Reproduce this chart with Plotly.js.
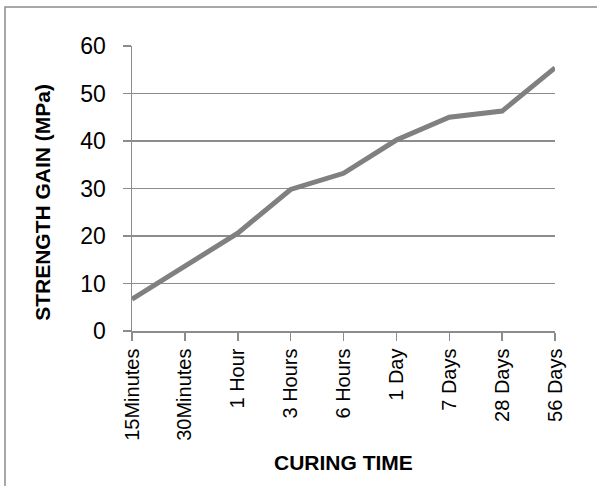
<!DOCTYPE html>
<html>
<head>
<meta charset="utf-8">
<script src="https://cdn.plot.ly/plotly-3.0.1.min.js"></script>
<style>html,body{margin:0;padding:0;background:#fff;}#chart{width:597px;height:486px;}</style>
</head>
<body>
<div id="chart"></div>
<script>
var curingTimes = ["15Minutes","30Minutes","1 Hour","3 Hours","6 Hours","1 Day","7 Days","28 Days","56 Days"];
var strengthGain = [6.7, 13.6, 20.6, 29.8, 33.2, 40.2, 45.0, 46.3, 55.4];
var yTicks = [0, 10, 20, 30, 40, 50, 60];

var trace = {
  x: curingTimes,
  y: strengthGain,
  type: 'scatter',
  mode: 'lines',
  line: {color: '#808080', width: 5},
  hoverinfo: 'x+y'
};

var gray = '#8c8c8c';
var fam = 'Liberation Sans, Arial, sans-serif';
var layout = {
  width: 597,
  height: 486,
  margin: {l: 132, r: 42, t: 46, b: 155, pad: 0},
  paper_bgcolor: '#ffffff',
  plot_bgcolor: '#ffffff',
  showlegend: false,
  font: {family: fam, color: '#000000'},
  xaxis: {
    type: 'category',
    range: [0, curingTimes.length - 1],
    showgrid: false,
    showline: true,
    linecolor: gray,
    linewidth: 1.5,
    ticks: 'outside',
    ticklen: 8,
    tickwidth: 1.5,
    tickcolor: gray,
    tickangle: -90,
    tickfont: {size: 20, family: fam, color: '#000'},
    zeroline: false,
    fixedrange: true
  },
  yaxis: {
    range: [0, 60],
    tickvals: yTicks,
    showgrid: true,
    gridcolor: gray,
    gridwidth: 1.5,
    showline: true,
    linecolor: gray,
    linewidth: 1.5,
    ticks: 'outside',
    ticklen: 8,
    tickwidth: 1.5,
    tickcolor: gray,
    ticklabelstandoff: 12,
    tickfont: {size: 23, family: fam, color: '#000'},
    zeroline: false,
    fixedrange: true
  },
  annotations: [
    {
      text: '<b>CURING TIME</b>',
      xref: 'paper', yref: 'paper',
      x: 0.5, y: (331.3 - 463) / 285.3,
      xanchor: 'center', yanchor: 'middle',
      showarrow: false,
      font: {size: 21, family: fam, color: '#000'}
    },
    {
      text: '<b>STRENGTH GAIN (MPa)</b>',
      xref: 'paper', yref: 'paper',
      x: (43 - 132) / 423, y: (331.3 - 203) / 285.3,
      xanchor: 'center', yanchor: 'middle',
      textangle: -90,
      showarrow: false,
      font: {size: 21, family: fam, color: '#000'}
    }
  ],
  shapes: [
    {
      type: 'rect', xref: 'paper', yref: 'paper',
      x0: (5 - 132) / 423, x1: 1.2,
      y0: -0.7, y1: (331.3 - 7) / 285.3,
      line: {color: '#8c8c8c', width: 1.5},
      fillcolor: 'rgba(0,0,0,0)',
      layer: 'below'
    }
  ]
};

Plotly.newPlot('chart', [trace], layout, {displayModeBar: false, staticPlot: true});
</script>
</body>
</html>
